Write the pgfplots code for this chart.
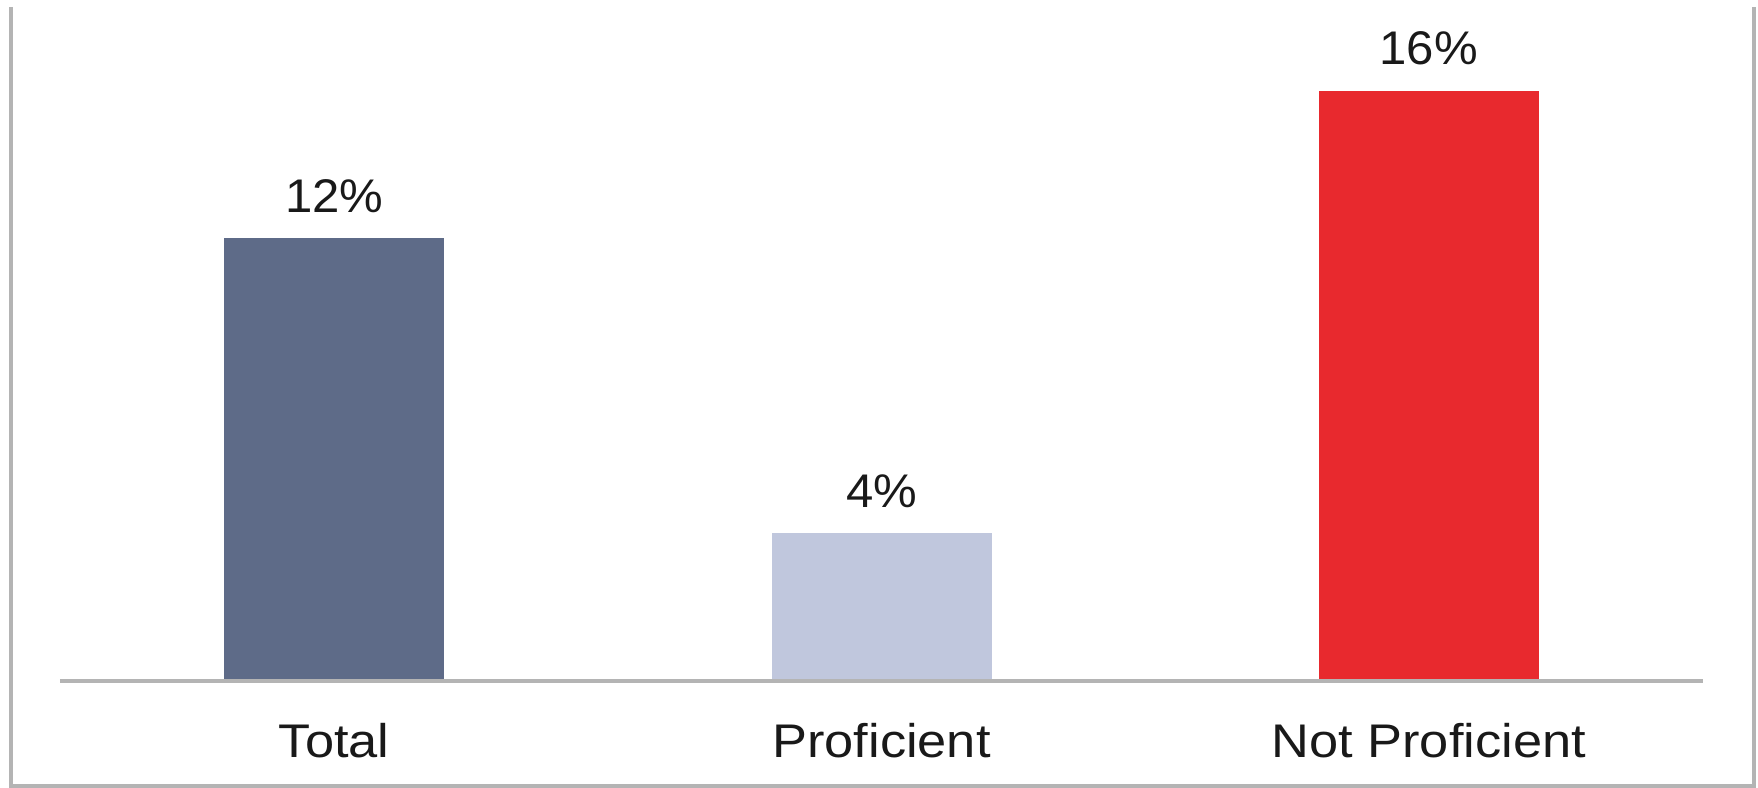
\documentclass[border=0pt]{standalone}
\usepackage{pgfplots}
\pgfplotsset{compat=1.18}
\usepackage{fontspec}
\setmainfont{Liberation Sans}
\newfontfamily\tickfont[FakeStretch=1.11]{Liberation Sans}
\newfontfamily\valfont[FakeStretch=1.04]{Liberation Sans}
\definecolor{cTotal}{HTML}{5E6B88}
\definecolor{cProf}{HTML}{C0C7DD}
\definecolor{cNot}{HTML}{E8292E}
\definecolor{frame}{HTML}{B4B4B4}
\begin{document}
\begin{tikzpicture}
\path[use as bounding box] (0pt,0pt) rectangle (439.5pt,197pt);
\draw[frame, line width=0.9pt] (2.75pt,195.25pt) -- (2.75pt,0.5pt) -- (438.5pt,0.5pt) -- (438.5pt,195.25pt);
\begin{axis}[
  at={(15pt,26.75pt)}, anchor=south west,
  scale only axis,
  width=410.75pt, height=166pt,
  xmin=-0.501, xmax=2.501,
  ymin=0, ymax=18,
  axis line style={draw=none},
  ybar, bar width=55pt, bar shift=0pt,
  xtick={0,1,2},
  xticklabels={Total,Proficient,Not Proficient},
  xtick pos=bottom,
  major tick length=0pt,
  ytick=\empty,
  /pgf/number format/assume math mode=true,
  xticklabel style={font=\tickfont\fontsize{11.8}{14}\selectfont, inner sep=0pt, yshift=-10.3pt, text=black!90},
  nodes near coords={\pgfmathprintnumber{\pgfplotspointmeta}\%},
  every node near coord/.append style={font=\valfont\fontsize{11.8}{14}\selectfont, inner sep=0pt, yshift=6.25pt, text=black!90},
  clip=false,
]
\addplot[fill=cTotal, draw=none] coordinates {(0,12)};
\addplot[fill=cProf, draw=none] coordinates {(1,4)};
\addplot[fill=cNot, draw=none] coordinates {(2,16)};
\draw[frame, line width=0.9pt] (axis cs:-0.501,0) -- (axis cs:2.501,0);
\end{axis}
\end{tikzpicture}
\end{document}
